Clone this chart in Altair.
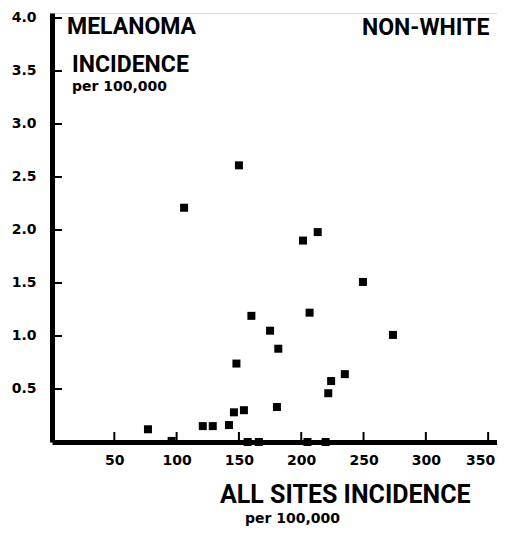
import altair as alt
import pandas as pd

# Data
all_sites = [77, 96, 106, 121, 129, 142, 146, 148, 150, 154, 157, 160, 166, 175,
             180.5, 181.6, 201.4, 205, 206.7, 213.2, 219.6, 221.7, 224, 235, 249.5, 273.6]
melanoma = [0.12, 0.01, 2.21, 0.15, 0.15, 0.16, 0.28, 0.74, 2.61, 0.30, 0.0, 1.19, 0.0, 1.05,
            0.33, 0.88, 1.90, 0.0, 1.22, 1.98, 0.0, 0.46, 0.575, 0.64, 1.51, 1.01]
x_ticks = [50, 100, 150, 200, 250, 300, 350]
y_ticks = [0.5, 1.0, 1.5, 2.0, 2.5, 3.0, 3.5, 4.0]

W, H = 445, 429
XDOM = [0, 357.1]
YDOM = [0, 4.047]

COND = "Roboto"
BOLD = "DejaVu Sans"

df = pd.DataFrame({"x": all_sites, "y": melanoma})
xt = pd.DataFrame({"x": x_ticks})
yt = pd.DataFrame({"y": y_ticks})

xscale = alt.Scale(domain=XDOM, nice=False, zero=False)
yscale = alt.Scale(domain=YDOM, nice=False, zero=False)

xaxis = alt.Axis(values=x_ticks, title=None, grid=False, ticks=False, domainWidth=5,
                 domainColor="black", labelFont=BOLD, labelFontWeight="bold",
                 labelFontSize=14, labelColor="black", labelPadding=11, format="d",
                 labelOffset={"condition": {"test": "datum.value == 350", "value": -8}, "value": 0})
yaxis = alt.Axis(values=y_ticks, title=None, grid=False, ticks=False, domainWidth=5,
                 domainColor="black", labelFont=BOLD, labelFontWeight="bold",
                 labelFontSize=14, labelColor="black", labelPadding=16, format=".1f")

points = alt.Chart(df).mark_square(size=64, color="black", opacity=1).encode(
    x=alt.X("x:Q", scale=xscale, axis=xaxis),
    y=alt.Y("y:Q", scale=yscale, axis=yaxis),
)

xtick_marks = alt.Chart(xt).mark_rule(color="black", strokeWidth=2).encode(
    x=alt.X("x:Q", scale=xscale, axis=xaxis),
    y=alt.value(H),
    y2=alt.value(H - 10),
)
ytick_marks = alt.Chart(yt).mark_rule(color="black", strokeWidth=2).encode(
    y=alt.Y("y:Q", scale=yscale, axis=yaxis),
    x=alt.value(0),
    x2=alt.value(10),
)

def label(text, x, y, size, font, weight="bold"):
    return alt.Chart(pd.DataFrame({"t": [text]})).mark_text(
        align="left", baseline="alphabetic", font=font, fontSize=size,
        fontWeight=weight, color="black"
    ).encode(text="t:N", x=alt.value(x), y=alt.value(y))

texts = [
    label("MELANOMA", 15, 21, 23, COND),
    label("INCIDENCE", 20, 59, 23, COND),
    label("per 100,000", 20, 78, 14, BOLD),
    label("NON-WHITE", 310, 22, 23, COND),
    label("ALL SITES INCIDENCE", 168, 490, 25, COND),
    label("per 100,000", 193, 510, 14, BOLD),
]

chart = alt.layer(points, xtick_marks, ytick_marks, *texts).properties(
    width=W, height=H,
    padding={"left": 44, "top": 5, "right": 0, "bottom": 85},
    autosize=alt.AutoSizeParams(type="none"),
).configure_view(stroke=None).configure(background="white")

chart.save("out.html", embed_options={"renderer": "svg", "actions": False})
